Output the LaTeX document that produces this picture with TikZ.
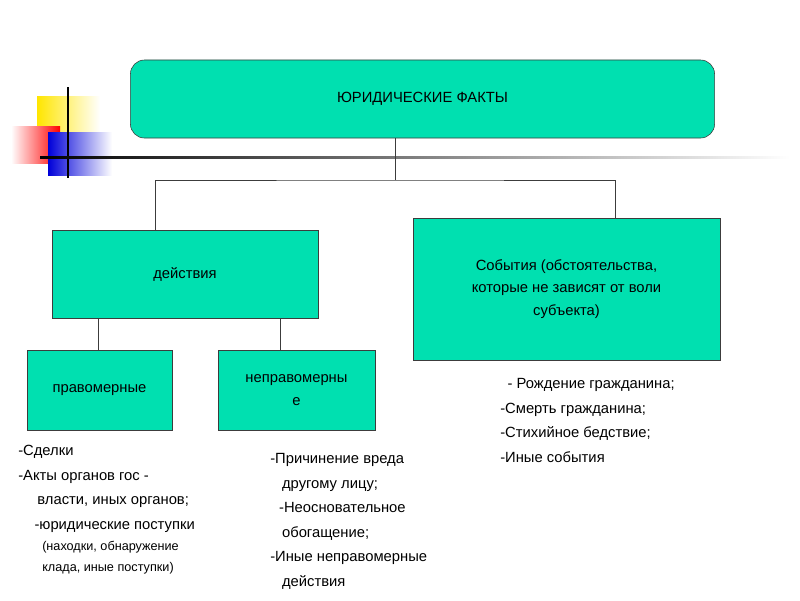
\documentclass[tikz,border=0pt]{standalone}
\usepackage{fontspec}
\setmainfont{Liberation Sans}
\usetikzlibrary{positioning}
\definecolor{boxgreen}{RGB}{0,224,176}
\definecolor{boxline}{RGB}{60,60,60}
\tikzset{
  fact/.style={draw=boxline,fill=boxgreen,inner sep=0pt,align=center,font=\fontsize{10.5}{16}\selectfont},
  link/.style={draw=boxline,line width=0.5pt},
  list/.style={anchor=north west,align=left,inner sep=0pt,font=\fontsize{10.5}{17.5}\selectfont}
}
\begin{document}
\begin{tikzpicture}[x=0.025cm,y=-0.025cm]
\useasboundingbox (0,0) rectangle (800,600);
% decoration
\fill[left color=yellow!80!orange,right color=white] (37,96) rectangle (100,152);
\fill[left color=white,right color=red] (11,126) rectangle (60,163);
\fill[left color=blue!85!black,right color=white] (48,132) rectangle (112,175);
\draw[line width=1.5pt] (68,87) -- (68,178);
\shade[left color=black,right color=white] (40,156) rectangle (790,158.5);
% boxes
\node[fact,rounded corners=10pt,minimum width=14.6cm,minimum height=1.95cm] (top) at (422.5,99) {ЮРИДИЧЕСКИЕ ФАКТЫ};
\node[fact,minimum width=6.65cm,minimum height=2.2cm] (act) at (185,274) {действия};
\node[fact,minimum width=7.68cm,minimum height=3.55cm] (event) at (566.5,289) {События (обстоятельства,\\которые не зависят от воли\\субъекта)};
\node[fact,minimum width=3.62cm,minimum height=2cm] (legal) at (99.5,390) {правомерные};
\node[fact,minimum width=3.92cm,minimum height=2cm] (illegal) at (296.5,390) {неправомерны\\е};
% connectors
\coordinate (hub) at (395,180);
\draw[link] (top.south -| hub) -- (hub);
\draw[link] (act.north -| 155,0) |- (hub) -| (event.north -| 615,0);
\draw[link] (act.south -| 98,0) -- (legal.north -| 98,0);
\draw[link] (act.south -| 280,0) -- (illegal.north -| 280,0);
% lists
\node[list] (l1) at (18,445) {-Сделки\\-Акты органов гос -\\\hspace*{1.3em}власти, иных органов;\\\hspace*{1.1em}-юридические поступки};
\node[list,font=\fontsize{9}{15}\selectfont] (l2) at (42,541) {(находки, обнаружение\\клада, иные поступки)};
\node[list] (l3) at (270,453) {-Причинение вреда\\\hspace*{0.8em}другому лицу;\\\hspace*{0.6em}-Неосновательное\\\hspace*{0.8em}обогащение;\\-Иные неправомерные\\\hspace*{0.8em}действия};
\node[list] (l4) at (500,378) {\hspace*{0.5em}- Рождение гражданина;\\-Смерть гражданина;\\-Стихийное бедствие;\\-Иные события};
\end{tikzpicture}
\end{document}
